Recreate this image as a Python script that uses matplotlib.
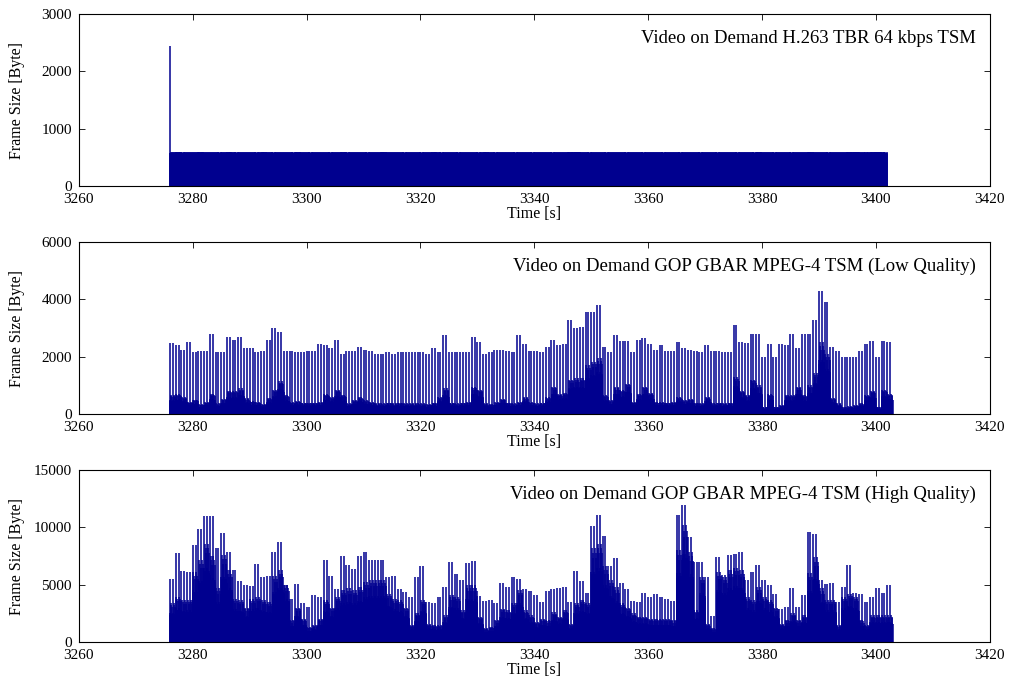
import numpy as np
import matplotlib
matplotlib.use("Agg")
import matplotlib.pyplot as plt

plt.rcParams['font.family'] = ['Liberation Serif', 'DejaVu Serif']

START_TIME = 3276   # first second with data [s]
FPS = 24            # two GOPs of 12 frames per second
BAR_COLOR = '#00008F'

# --- H.263 TBR 64 kbps, frame size per second [Byte] ---
h263_first_frame = 2450
h263_level = [
    590, 595, 590, 588, 590, 595, 590, 590, 588, 590,
    595, 590, 590, 590, 588, 590, 595, 590, 590, 588,
    590, 590, 595, 590, 588, 590, 590, 590, 588, 590,
    595, 590, 590, 588, 590, 590, 590, 595, 590, 588,
    588, 590, 590, 590, 588, 590, 595, 590, 588, 590,
    590, 590, 590, 588, 590, 595, 590, 590, 590, 588,
    590, 590, 590, 590, 588, 588, 588, 588, 590, 590,
    595, 600, 590, 590, 588, 590, 590, 590, 588, 590,
    590, 588, 590, 590, 590, 590, 588, 590, 590, 590,
    588, 590, 590, 590, 590, 588, 590, 590, 590, 590,
    590, 588, 590, 595, 590, 590, 590, 588, 590, 590,
    590, 590, 595, 590, 590, 588, 590, 590, 590, 595,
    600, 590, 590, 595, 600, 590,
]
h263_shape = [1.0, 0.97, 0.99, 0.95, 1.0, 0.98, 0.96, 0.99, 0.97, 1.0, 0.96, 0.98]

# --- MPEG-4 low quality: I-frame peak and P/B fill level per second [kByte] ---
lq_peak = [
    2.49, 2.4, 2.25, 2.5, 2.17, 2.2, 2.2, 2.8, 2.17, 2.17,
    2.7, 2.6, 2.7, 2.3, 2.3, 2.15, 2.2, 2.6, 3.0, 2.85,
    2.2, 2.2, 2.15, 2.15, 2.2, 2.2, 2.45, 2.4, 2.3, 2.6,
    2.1, 2.2, 2.2, 2.35, 2.25, 2.2, 2.1, 2.1, 2.15, 2.1,
    2.15, 2.15, 2.15, 2.15, 2.15, 2.1, 2.3, 2.15, 2.75, 2.15,
    2.15, 2.15, 2.15, 2.7, 2.5, 2.1, 2.15, 2.25, 2.25, 2.2,
    2.15, 2.75, 2.45, 2.2, 2.2, 2.15, 2.35, 2.6, 2.4, 2.45,
    3.3, 3.0, 3.05, 3.55, 3.55, 3.8, 2.35, 2.15, 2.75, 2.55,
    2.55, 2.15, 2.6, 2.65, 2.45, 2.23, 2.4, 2.2, 2.2, 2.5,
    2.3, 2.25, 2.2, 2.15, 2.4, 2.2, 2.2, 2.15, 2.15, 3.1,
    2.5, 2.47, 2.8, 2.8, 2.0, 2.45, 2.0, 2.45, 2.4, 2.8,
    2.3, 2.8, 2.8, 3.3, 4.3, 3.9, 2.35, 2.2, 2.0, 2.0,
    2.0, 2.2, 2.45, 2.55, 2.0, 2.55, 2.5,
]
lq_base = [
    0.65, 0.7, 0.6, 0.42, 0.5, 0.35, 0.42, 0.7, 0.37, 0.53,
    0.8, 0.8, 0.9, 0.55, 0.45, 0.42, 0.35, 0.55, 0.85, 1.15,
    0.65, 0.42, 0.45, 0.4, 0.4, 0.4, 0.42, 0.7, 0.6, 0.85,
    0.65, 0.37, 0.48, 0.6, 0.48, 0.42, 0.37, 0.37, 0.4, 0.37,
    0.4, 0.37, 0.37, 0.37, 0.37, 0.35, 0.4, 0.6, 0.9, 0.4,
    0.37, 0.4, 0.42, 0.95, 0.85, 0.37, 0.35, 0.42, 0.53, 0.4,
    0.37, 0.42, 0.6, 0.42, 0.37, 0.4, 0.6, 0.95, 0.7, 0.75,
    1.2, 1.25, 1.27, 1.7, 1.83, 1.95, 0.65, 0.48, 0.95, 0.85,
    1.05, 0.42, 0.7, 0.95, 0.75, 0.42, 0.42, 0.4, 0.42, 0.6,
    0.48, 0.53, 0.4, 0.37, 0.6, 0.37, 0.4, 0.37, 0.4, 1.3,
    0.8, 0.65, 1.2, 1.0, 0.25, 0.7, 0.25, 0.3, 0.65, 0.65,
    0.95, 0.65, 1.0, 1.45, 2.5, 2.1, 0.55, 0.37, 0.25, 0.27,
    0.3, 0.37, 0.65, 0.8, 0.25, 0.85, 0.7,
]

# --- MPEG-4 high quality: I-frame peak and P/B fill level per second [kByte] ---
hq_peak = [
    5.55, 7.8, 6.2, 6.1, 8.5, 9.9, 11.0, 11.0, 8.2, 9.5,
    7.9, 6.3, 5.3, 5.0, 4.9, 6.8, 5.7, 5.8, 7.9, 8.75,
    5.0, 3.8, 5.1, 3.4, 3.1, 4.1, 3.9, 7.2, 5.8, 4.6,
    7.5, 6.7, 6.4, 7.5, 7.9, 7.2, 7.2, 7.2, 5.7, 5.8,
    4.6, 4.4, 3.9, 5.65, 6.6, 3.5, 3.4, 3.95, 4.8, 7.0,
    5.95, 5.4, 6.9, 7.1, 4.0, 3.6, 3.66, 3.4, 5.2, 4.8,
    5.65, 5.55, 4.6, 4.5, 4.1, 3.5, 4.5, 4.6, 4.7, 4.8,
    3.5, 6.2, 5.3, 4.3, 10.1, 11.1, 9.3, 6.6, 7.35, 5.15,
    4.6, 3.6, 3.5, 4.3, 3.9, 4.2, 3.95, 3.8, 3.6, 11.1,
    12.0, 9.2, 7.0, 7.0, 5.7, 2.3, 7.4, 5.9, 7.6, 7.7,
    7.9, 5.4, 6.1, 6.7, 5.4, 5.0, 4.2, 2.9, 3.1, 4.7,
    3.1, 4.1, 9.6, 9.4, 5.4, 5.1, 5.2, 3.5, 4.8, 6.7,
    4.3, 4.2, 3.5, 3.9, 4.7, 4.3, 5.0,
]
hq_base = [
    3.4, 3.95, 3.67, 3.7, 6.1, 7.15, 8.6, 7.5, 4.68, 7.6,
    6.3, 3.8, 3.67, 3.0, 3.8, 3.95, 3.67, 3.5, 5.8, 6.3,
    5.0, 1.9, 3.0, 2.05, 1.34, 1.48, 2.05, 3.67, 3.0, 3.95,
    4.53, 4.68, 4.53, 4.82, 5.25, 5.4, 5.4, 5.4, 4.24, 3.8,
    3.67, 3.0, 1.48, 2.5, 3.67, 1.6, 1.48, 1.48, 2.35, 4.1,
    3.95, 2.8, 5.0, 5.0, 2.2, 1.2, 1.34, 1.9, 2.93, 2.8,
    3.4, 4.53, 2.8, 2.35, 1.76, 2.05, 1.9, 2.6, 2.2, 2.8,
    1.6, 3.4, 3.67, 3.4, 8.2, 8.6, 6.6, 5.4, 4.8, 3.4,
    3.0, 2.5, 2.2, 2.2, 2.05, 2.05, 2.05, 2.05, 1.9, 8.0,
    10.2, 7.9, 2.8, 5.7, 1.6, 1.2, 6.1, 5.7, 6.3, 6.5,
    6.3, 3.95, 3.7, 4.8, 3.95, 3.7, 3.0, 1.6, 1.9, 2.5,
    1.9, 2.35, 6.0, 7.4, 4.7, 3.7, 3.7, 1.48, 3.95, 4.24,
    3.95, 1.9, 1.48, 2.35, 2.35, 2.35, 2.35,
]
# P/B frame sizes relative to the fill level (frames 2..12 of a GOP)
gop_shape = [0.75, 0.7, 1.0, 0.72, 0.7, 0.95, 0.7, 0.72, 0.9, 0.7, 0.68]

titles = [
    "Video on Demand H.263 TBR 64 kbps TSM",
    "Video on Demand GOP GBAR MPEG-4 TSM (Low Quality)",
    "Video on Demand GOP GBAR MPEG-4 TSM (High Quality)",
]
y_maxes = [3000, 6000, 15000]
y_steps = [1000, 2000, 5000]


def gop_frames(peak, base):
    sizes = []
    for p, b in zip(peak, base):
        for _ in range(2):
            sizes.append(p)
            sizes.extend(b * s for s in gop_shape)
    return np.array(sizes) * 1000


h263_sizes = np.array([lv * s for lv in h263_level for s in h263_shape * 2], dtype=float)
h263_sizes[0] = h263_first_frame
traces = [h263_sizes, gop_frames(lq_peak, lq_base), gop_frames(hq_peak, hq_base)]

fig = plt.figure(figsize=(10.12, 6.89), dpi=100)
bottoms = [0.730, 0.399, 0.068]

for i, sizes in enumerate(traces):
    ax = fig.add_axes([0.078, bottoms[i], 0.900, 0.2496])
    t = START_TIME + np.arange(len(sizes)) / FPS
    ax.vlines(t, 0, sizes, color=BAR_COLOR, linewidth=1.1)
    ax.set_xlim(3260, 3420)
    ax.set_ylim(0, y_maxes[i])
    ax.set_xticks(np.arange(3260, 3421, 20))
    ax.set_yticks(np.arange(0, y_maxes[i] + 1, y_steps[i]))
    ax.tick_params(direction='in', top=True, right=True, length=4,
                   labelsize=11, width=0.6)
    ax.tick_params(axis='x', pad=5)
    ax.tick_params(axis='y', pad=5)
    for sp in ax.spines.values():
        sp.set_linewidth(0.8)
    ax.set_xlabel("Time [s]", fontsize=11.5, labelpad=0)
    ax.set_ylabel("Frame Size [Byte]", fontsize=11.5)
    ax.yaxis.set_label_coords(-0.059, 0.5)
    ax.text(0.985, 1 - 24 / 172, titles[i], transform=ax.transAxes,
            ha='right', va='center', fontsize=13.5)

fig.savefig("out.png", dpi=100)
